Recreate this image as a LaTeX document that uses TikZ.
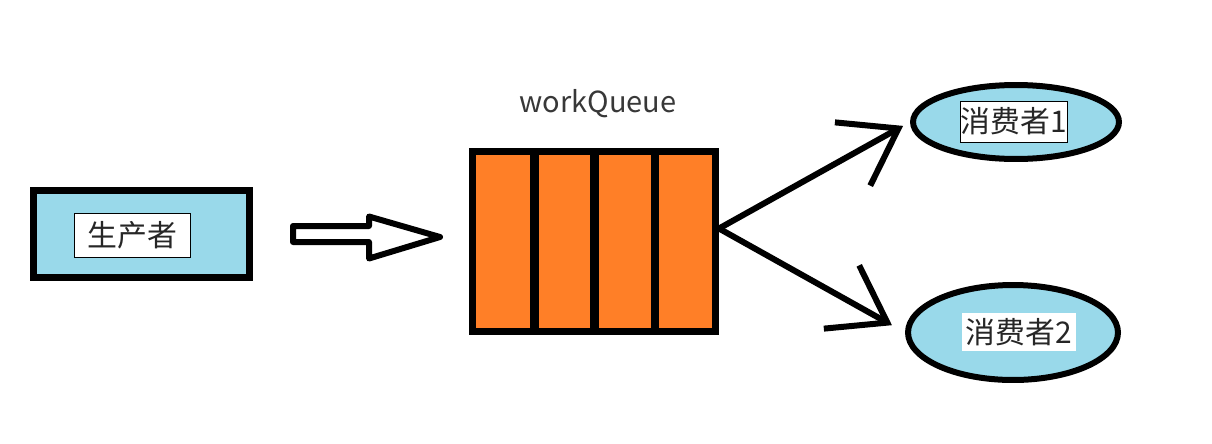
\documentclass[tikz,border=0pt]{standalone}
\usepackage{fontspec}
\setmainfont{Noto Sans CJK SC}
\usepackage{tikz}
\usetikzlibrary{shapes.geometric,arrows.meta}
\definecolor{paintblue}{RGB}{153,217,234}
\definecolor{paintorange}{RGB}{255,127,39}
\definecolor{textgray}{RGB}{56,56,56}

\begin{document}
\begin{tikzpicture}[x=0.02cm, y=-0.02cm,
	box/.style={draw=black, line width=0.14cm, fill=paintblue, inner sep=0pt},
	client/.style={ellipse, draw=black, line width=0.12cm, fill=paintblue, inner sep=0pt},
	tag/.style={fill=white, inner sep=0pt, text=black!85, font=\fontsize{17pt}{20pt}\selectfont},
	feed/.style={draw=black, line width=0.12cm, -{Straight Barb[length=1.05cm, width=1.45cm]}}]
	\useasboundingbox (0,0) rectangle (1212,443);

	% producer
	\node[box, minimum width=4.32cm, minimum height=1.74cm] (producer) at (141.50,234.00) {};
	\node[tag, draw=black, line width=0.02cm, minimum width=2.34cm, minimum height=0.88cm] (producertag) at (132.50,235.00) {生产者};

	% hollow arrow
	\draw[draw=black, line width=0.12cm, fill=white, line join=round] (293.00,226.00) -- (369.00,226.00) -- (369.00,216.50) -- (440.00,237.00) -- (369.00,258.50) -- (369.00,242.00) -- (293.00,242.00) -- cycle;

	% queue
	\node[textgray, font=\fontsize{16.5pt}{19pt}\selectfont] (queuetitle) at (598.00,104.00) {workQueue};
	\node[draw=black, line width=0.14cm, fill=paintorange, minimum width=4.86cm, minimum height=3.60cm] (queue) at (594.00,241.50) {};
	\draw[draw=black, line width=0.17cm] (534.50,151.50) -- (534.50,331.50);
	\draw[draw=black, line width=0.17cm] (594.50,151.50) -- (594.50,331.50);
	\draw[draw=black, line width=0.17cm] (655.00,151.50) -- (655.00,331.50);

	% consumers
	\node[client, minimum width=4.12cm, minimum height=1.48cm] (consumerA) at (1016.00,122.00) {};
	\node[tag, draw=black, line width=0.02cm, minimum width=2.12cm, minimum height=0.82cm] (consumerAtag) at (1014.00,121.50) {消费者1};
	\node[client, minimum width=4.20cm, minimum height=1.90cm] (consumerB) at (1013.00,332.50) {};
	\node[tag, minimum width=2.28cm, minimum height=0.76cm] (consumerBtag) at (1019.00,332.00) {消费者2};

	\coordinate (queueout) at ([yshift=0.26cm]queue.east);
	\draw[feed, shorten >=0.16cm] (queueout) -- (consumerA.west);
	\draw[feed, shorten >=0.30cm] (queueout) -- (consumerB.west);
\end{tikzpicture}
\end{document}
